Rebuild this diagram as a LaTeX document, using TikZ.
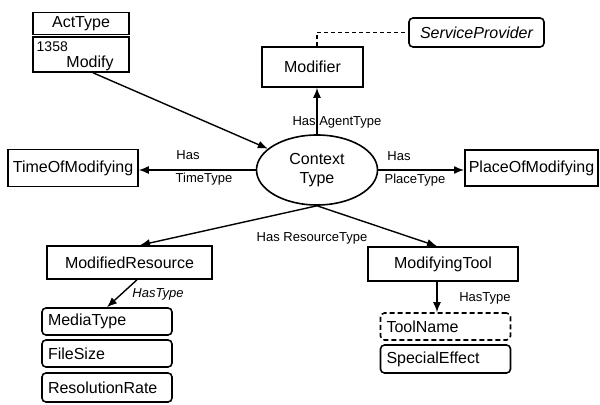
\documentclass[tikz,border=0pt]{standalone}
\usepackage{fontspec}
\setmainfont{Liberation Sans}
\usetikzlibrary{
    arrows.meta,
    shapes,
    positioning
}
\tikzset{%
    >={Latex[width=4pt,length=5pt]},
    % Specifications for style of nodes:
    plain/.style = {},
    base/.style = {
        plain,
        rectangle, draw=black, line width=0.8pt,
        text centered, font=\fontsize{8}{9.5}\selectfont,
        fill=white, align=center, inner sep=2pt
    },
    ctx/.style = {base, ellipse},
    term/.style = {base, rounded corners=2pt, align=left, text width=59pt, inner xsep=3pt},
    rel/.style = {plain, font=\fontsize{6.5}{8}\selectfont, inner sep=1pt}
}

\begin{document}
\begin{tikzpicture}[x=0.5pt, y=-0.5pt, line width=0.7pt]
                \useasboundingbox (0,0) rectangle (600,405);
                \node[base, minimum width=48pt, minimum height=10.5pt] (acttype) at (81,23.5) {ActType};
                \node[base, minimum width=48pt, minimum height=17.5pt] (modify) at (81,54.5) {};
                \node[rel, anchor=west, font=\fontsize{7}{8}\selectfont] (actid) at (34,47) {1358};
                \node[plain, font=\fontsize{8}{9.5}\selectfont, inner sep=0pt] (modifytext) at (90,63) {Modify};
                \node[base, minimum width=50.5pt, minimum height=20pt] (modifier) at (312.5,67) {Modifier};
                \node[base, rounded corners=2pt, minimum width=67.5pt, minimum height=14.5pt, font=\fontsize{8}{9.5}\selectfont\itshape] (provider) at (476.5,32.5) {ServiceProvider};
                \node[ctx, minimum width=60.5pt, minimum height=35pt] (context) at (317,170) {Context\\Type};
                \node[base, minimum width=65pt, minimum height=18.5pt] (time) at (73,168) {TimeOfModifying};
                \node[base, minimum width=65.5pt, minimum height=18pt] (place) at (531.5,168) {PlaceOfModifying};
                \node[base, minimum width=82.5pt, minimum height=16.5pt] (resource) at (129.5,262.5) {ModifiedResource};
                \node[base, minimum width=75pt, minimum height=17pt] (tool) at (443,264) {ModifyingTool};
                \node[term, minimum height=13.5pt] (media) at (107,321.5) {MediaType};
                \node[term, minimum height=13.5pt] (filesize) at (107,353.5) {FileSize};
                \node[term, minimum height=14.5pt] (resolution) at (107,387.5) {ResolutionRate};
                \node[term, minimum height=13.5pt, dash pattern=on 2.5pt off 1.5pt] (toolname) at (445.5,326.5) {ToolName};
                \node[term, minimum height=14pt] (effect) at (445.5,359) {SpecialEffect};
                \draw[->] ([xshift=6pt]modify.south) -- (context);
                \draw[->] (context.north) -- (context.north |- modifier.south);
                \draw[dash pattern=on 2pt off 1.5pt] (context.north |- modifier.north) |- (provider.west);
                \draw[->] (context.west) -- (context.west -| time.east);
                \draw[->] (context.east) -- (context.east -| place.west);
                \draw[->] (context.south) -- ([xshift=5.25pt]resource.north);
                \draw[->] (context.south) -- ([xshift=-3pt]tool.north);
                \draw[->] ([xshift=3.75pt]resource.south) -- (media.north);
                \draw[->] ([xshift=-3pt]tool.south) -- ([xshift=-3pt]tool.south |- toolname.north);
                \node[rel] (hasagent) at (337,122) {Has AgentType};
                \node[rel] (hastime) at (188,155) {Has};
                \node[rel] (timetype) at (204,179) {TimeType};
                \node[rel] (hasplace) at (399,156) {Has};
                \node[rel] (placetype) at (415,180) {PlaceType};
                \node[rel] (hasresource) at (312,238) {Has ResourceType};
                \node[rel, font=\fontsize{6.5}{8}\selectfont\itshape] (hasmedia) at (158,294) {HasType};
                \node[rel] (hastool) at (485,298) {HasType};
            \end{tikzpicture}
\end{document}
